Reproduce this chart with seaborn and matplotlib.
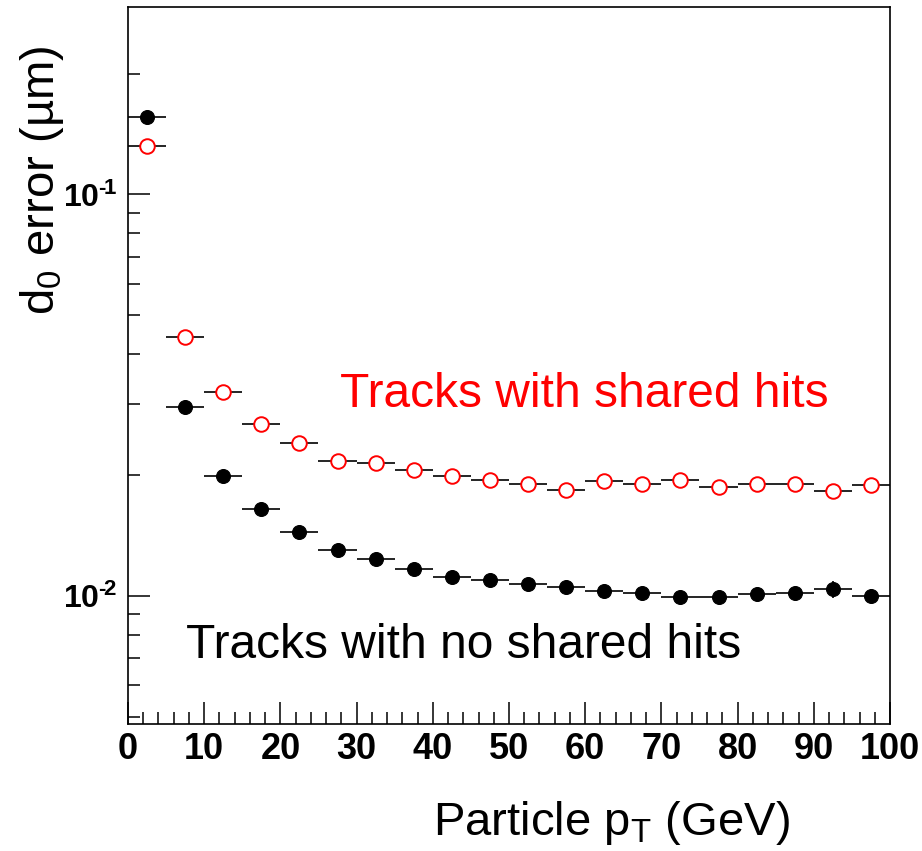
import numpy as np
import pandas as pd
import seaborn as sns
import matplotlib.pyplot as plt
from matplotlib.ticker import FixedLocator, FixedFormatter, LogLocator, NullFormatter, MultipleLocator

# bin centres (GeV) and half bin width
pt_centres = [2.5, 7.5, 12.5, 17.5, 22.5, 27.5, 32.5, 37.5, 42.5, 47.5,
              52.5, 57.5, 62.5, 67.5, 72.5, 77.5, 82.5, 87.5, 92.5, 97.5]
pt_halfwidth = 2.5

# tracks with no shared hits
d0_noshared = [0.1558, 0.0295, 0.01995, 0.0165, 0.01445, 0.01303, 0.01237, 0.01168, 0.01115, 0.01096,
               0.01072, 0.01053, 0.01029, 0.01017, 0.00994, 0.00994, 0.0101, 0.0102, 0.0104, 0.0100]
d0_noshared_unc = [0.004, 0.0006, 0.0003, 0.0002, 0.0002, 0.0002, 0.0002, 0.0002, 0.0002, 0.0002,
                   0.0002, 0.0002, 0.0002, 0.0002, 0.0002, 0.0002, 0.0002, 0.0003, 0.0005, 0.0004]

# tracks with shared hits
d0_shared = [0.1318, 0.0442, 0.0322, 0.0268, 0.0240, 0.02175, 0.0214, 0.02065, 0.01995, 0.0195,
             0.01905, 0.0184, 0.0193, 0.01905, 0.0194, 0.01873, 0.01905, 0.01905, 0.0183, 0.0189]
d0_shared_unc = [0.002, 0.0005, 0.0003, 0.0003, 0.0002, 0.0002, 0.0002, 0.0002, 0.0002, 0.0002,
                 0.0002, 0.0002, 0.0002, 0.0002, 0.0002, 0.0002, 0.0002, 0.0002, 0.0002, 0.0002]

ytick_vals = [0.01, 0.1]
ytick_labels = ['$\\mathbf{10^{\u2010\\!2}}$', '$\\mathbf{10^{\u2010\\!1}}$']

sns.set_style("ticks")
plt.rcParams['font.family'] = ['Liberation Sans', 'DejaVu Sans']
plt.rcParams['mathtext.fontset'] = 'custom'
plt.rcParams['mathtext.rm'] = 'Liberation Sans'
plt.rcParams['mathtext.it'] = 'Liberation Sans:italic'
plt.rcParams['mathtext.bf'] = 'Liberation Sans:bold'
plt.rcParams['text.color'] = 'black'
plt.rcParams['xtick.color'] = 'black'
plt.rcParams['ytick.color'] = 'black'

df_no = pd.DataFrame({'pt': pt_centres, 'd0': d0_noshared})
df_sh = pd.DataFrame({'pt': pt_centres, 'd0': d0_shared})

fig = plt.figure(figsize=(9.22, 8.51), dpi=100)
ax = fig.add_axes([0.1388, 0.1492, 0.8265, 0.8426])

ax.errorbar(pt_centres, d0_shared, xerr=pt_halfwidth, yerr=d0_shared_unc,
            fmt='none', ecolor='black', elinewidth=1.2, capsize=0, zorder=1)
ax.errorbar(pt_centres, d0_noshared, xerr=pt_halfwidth, yerr=d0_noshared_unc,
            fmt='none', ecolor='black', elinewidth=1.2, capsize=0, zorder=1)

sns.scatterplot(data=df_sh, x='pt', y='d0', ax=ax, marker='o', s=110,
                facecolor='white', edgecolor='red', linewidth=1.4, zorder=3)
sns.scatterplot(data=df_no, x='pt', y='d0', ax=ax, marker='o', s=100,
                color='black', edgecolor='black', linewidth=0.8, zorder=3)

ax.set_yscale('log')
ax.set_xlim(0, 100)
ax.set_ylim(0.0048, 0.293)
ax.set_xlabel('')
ax.set_ylabel('')

ax.xaxis.set_major_locator(MultipleLocator(10))
ax.xaxis.set_minor_locator(MultipleLocator(2))
ax.yaxis.set_major_locator(FixedLocator(ytick_vals))
ax.yaxis.set_major_formatter(FixedFormatter(ytick_labels))
ax.yaxis.set_minor_locator(LogLocator(base=10, subs=np.arange(2, 10)))
ax.yaxis.set_minor_formatter(NullFormatter())

ax.tick_params(which='both', direction='in', top=False, right=False, width=1.1, color='black')
ax.tick_params(which='major', length=16, pad=6)
ax.tick_params(which='minor', length=8.5)
ax.tick_params(axis='y', which='major', labelsize=23, pad=8)
for lab in ax.get_xticklabels():
    lab.set_fontfamily(['Liberation Sans Narrow', 'Liberation Sans'])
    lab.set_fontweight('bold')
    lab.set_fontsize(26)

for sp in ax.spines.values():
    sp.set_visible(True)
    sp.set_linewidth(1.2)
    sp.set_color('black')

ax.text(0.278, 0.442, 'Tracks with shared hits', transform=ax.transAxes,
        color='red', fontsize=34.5, ha='left', va='baseline')
ax.text(0.076, 0.092, 'Tracks with no shared hits', transform=ax.transAxes,
        color='black', fontsize=34.5, ha='left', va='baseline')

fig.text(42 / 922, 1 - 180 / 851, 'd$_{\\mathregular{0}}$ error (µm)', rotation=90,
         fontsize=34, ha='center', va='center')
fig.text(790 / 922, 1 - 835 / 851, 'Particle p$_{\\mathregular{T}}$ (GeV)',
         fontsize=34, ha='right', va='baseline')

fig.savefig('out.png', dpi=100)
